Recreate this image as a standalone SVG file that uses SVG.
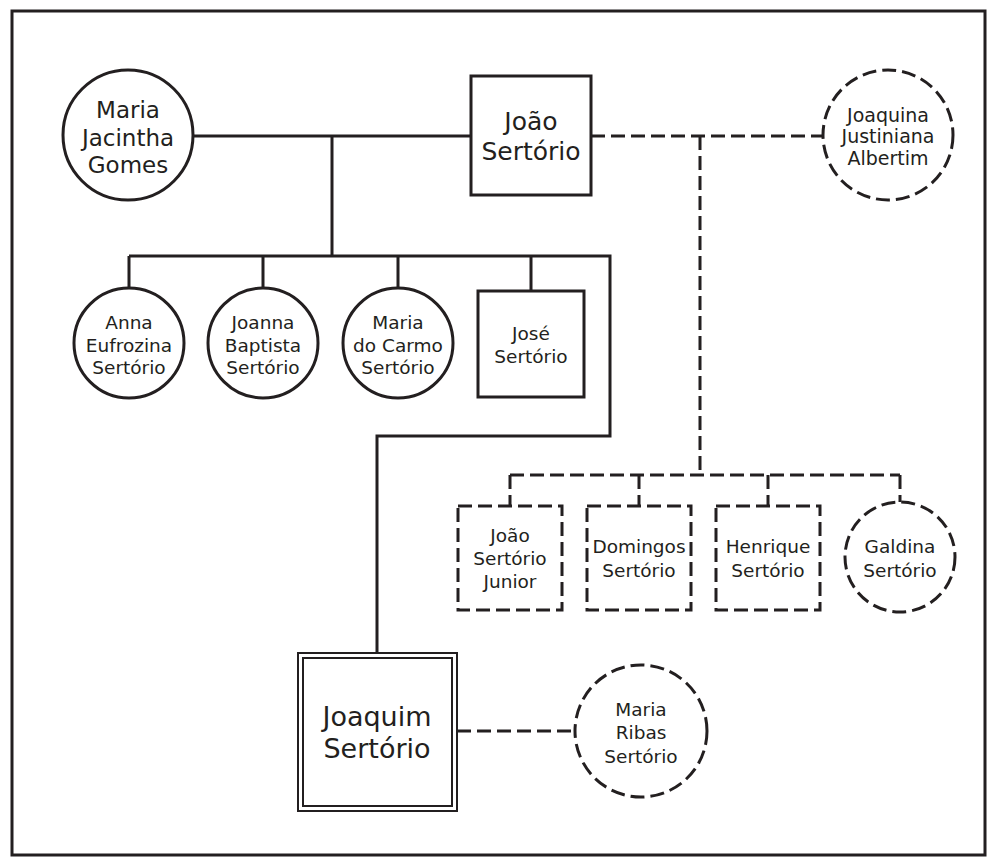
<svg xmlns="http://www.w3.org/2000/svg" width="997" height="867" viewBox="0 0 997 867">
<style>
.ln{fill:none;stroke:#231f20;stroke-width:3}
.ds{fill:none;stroke:#231f20;stroke-width:3;stroke-dasharray:14 6}
.nd{fill:#fff;stroke:#231f20;stroke-width:3}
.ndd{fill:#fff;stroke:#231f20;stroke-width:3;stroke-dasharray:14 6}
.dbl{fill:#fff;stroke:#231f20;stroke-width:2}
text{font-family:"DejaVu Sans","Liberation Sans",sans-serif;fill:#231f20;text-anchor:middle}
.t23{font-size:23px}
.t25{font-size:25px}
.t19{font-size:19px}
.t18{font-size:18.5px}
.t27{font-size:27px}
</style>
<rect x="0" y="0" width="997" height="867" fill="#fff"/>
<rect x="12" y="11" width="973" height="844" fill="none" stroke="#231f20" stroke-width="3"/>
<g id="connectors">
<path class="ln" d="M193,136 H471"/>
<path class="ln" d="M332,136 V256"/>
<path class="ln" d="M129,256 H610 V436 H377 V653"/>
<path class="ln" d="M129,256 V288 M263,256 V288 M398,256 V288 M531,256 V291"/>
<path class="ds" d="M591,136 H823"/>
<path class="ds" d="M700,136 V475"/>
<path class="ds" d="M510,475 H900"/>
<path class="ds" d="M510,475 V506 M639,475 V506 M768,475 V506 M900,475 V502"/>
<path class="ds" d="M457,731 H575"/>
</g>
<g id="maria-jacintha-gomes">
<circle class="nd" cx="128" cy="135" r="65"/>
<text class="t23" x="128" y="118">Maria</text>
<text class="t23" x="128" y="146">Jacintha</text>
<text class="t23" x="128" y="173">Gomes</text>
</g>
<g id="joao-sertorio">
<rect class="nd" x="471" y="76" width="120" height="119"/>
<text class="t25" x="531" y="130">João</text>
<text class="t25" x="531" y="160">Sertório</text>
</g>
<g id="joaquina-justiniana-albertim">
<circle class="ndd" cx="888" cy="135" r="65"/>
<text class="t19" x="888" y="122">Joaquina</text>
<text class="t19" x="888" y="143">Justiniana</text>
<text class="t19" x="888" y="165">Albertim</text>
</g>
<g id="anna-eufrozina-sertorio">
<circle class="nd" cx="129" cy="343" r="55"/>
<text class="t18" x="129" y="329">Anna</text>
<text class="t18" x="129" y="352">Eufrozina</text>
<text class="t18" x="129" y="374">Sertório</text>
</g>
<g id="joanna-baptista-sertorio">
<circle class="nd" cx="263" cy="343" r="55"/>
<text class="t18" x="263" y="329">Joanna</text>
<text class="t18" x="263" y="352">Baptista</text>
<text class="t18" x="263" y="374">Sertório</text>
</g>
<g id="maria-do-carmo-sertorio">
<circle class="nd" cx="398" cy="343" r="55"/>
<text class="t18" x="398" y="329">Maria</text>
<text class="t18" x="398" y="352">do Carmo</text>
<text class="t18" x="398" y="374">Sertório</text>
</g>
<g id="jose-sertorio">
<rect class="nd" x="478" y="291" width="106" height="106"/>
<text class="t18" x="531" y="340">José</text>
<text class="t18" x="531" y="363">Sertório</text>
</g>
<g id="joao-sertorio-junior">
<rect class="ndd" x="458" y="506" width="104" height="104"/>
<text class="t18" x="510" y="542">João</text>
<text class="t18" x="510" y="565">Sertório</text>
<text class="t18" x="510" y="588">Junior</text>
</g>
<g id="domingos-sertorio">
<rect class="ndd" x="587" y="506" width="104" height="104"/>
<text class="t18" x="639" y="553">Domingos</text>
<text class="t18" x="639" y="577">Sertório</text>
</g>
<g id="henrique-sertorio">
<rect class="ndd" x="716" y="506" width="104" height="104"/>
<text class="t18" x="768" y="553">Henrique</text>
<text class="t18" x="768" y="577">Sertório</text>
</g>
<g id="galdina-sertorio">
<circle class="ndd" cx="900" cy="557" r="55"/>
<text class="t18" x="900" y="553">Galdina</text>
<text class="t18" x="900" y="577">Sertório</text>
</g>
<g id="joaquim-sertorio">
<rect class="dbl" x="298" y="653" width="159" height="158"/>
<rect class="dbl" x="303" y="658" width="149" height="148"/>
<text class="t27" x="377" y="726">Joaquim</text>
<text class="t27" x="377" y="758">Sertório</text>
</g>
<g id="maria-ribas-sertorio">
<circle class="ndd" cx="641" cy="731" r="66"/>
<text class="t18" x="641" y="716">Maria</text>
<text class="t18" x="641" y="739">Ribas</text>
<text class="t18" x="641" y="763">Sertório</text>
</g>
</svg>
